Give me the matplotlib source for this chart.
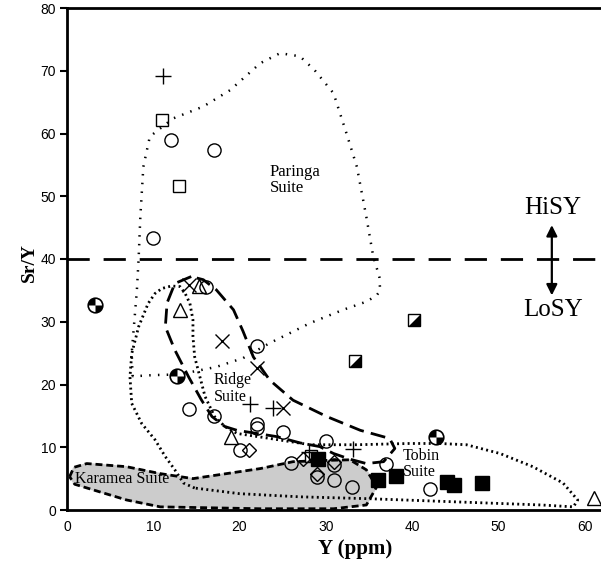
import numpy as np
import matplotlib
matplotlib.use("Agg")
import matplotlib.pyplot as plt
from matplotlib.path import Path

# Muestras (Y ppm, Sr/Y)
circ_x = [12.0, 17.0, 10.0, 16.1, 22.0, 14.1, 17.0, 22.0, 22.0, 25.0, 20.0, 30.0, 26.0, 31.0, 29.0, 31.0, 33.0, 37.0, 42.1]
circ_y = [59.0, 57.3, 43.4, 35.5, 26.1, 16.1, 15.0, 13.7, 13.0, 12.4, 9.6, 11.0, 7.5, 7.2, 5.3, 4.8, 3.6, 7.3, 3.3]
sq_x = [11.0, 13.0, 28.3]
sq_y = [62.2, 51.7, 8.6]
plus_x = [11.1, 21.2, 23.9, 33.1, 28.0]
plus_y = [69.2, 16.9, 16.2, 9.7, 9.2]
cross_x = [14.1, 18.0, 22.0, 25.0]
cross_y = [35.9, 27.0, 22.6, 16.2]
tri_x = [13.1, 15.3, 19.0, 61.1]
tri_y = [31.9, 35.7, 11.7, 1.9]
dia_x = [21.1, 27.3, 31.0, 29.0]
dia_y = [9.6, 8.2, 7.7, 5.8]
fsq_x = [29.1, 36.1, 38.1, 44.0, 44.9, 48.1]
fsq_y = [8.2, 4.8, 5.4, 4.5, 4.0, 4.3]
half_x = [40.2, 33.4]
half_y = [30.2, 23.8]
quad_x = [3.2, 12.8, 42.8]
quad_y = [32.7, 21.4, 11.6]

# Contornos de las suites
paringa_x = [7.6, 7.5, 7.8, 8.1, 8.3, 8.5, 8.85, 9.6, 10.8, 12.3, 15.8, 18.9, 22.4, 24.7, 27.0, 28.7,
             30.9, 32.4, 33.6, 34.7, 35.5, 36.2, 36.3, 35.9, 34.7, 32.0, 28.2, 23.5, 20.4, 17.3, 13.0, 10.0, 7.6]
paringa_y = [21.3, 25.0, 30.0, 35.0, 40.0, 46.7, 54.7, 59.5, 60.8, 62.4, 64.3, 66.9, 71.2, 72.8, 72.3, 70.1,
             66.4, 60.0, 54.7, 46.7, 40.4, 37.2, 35.0, 34.2, 33.2, 31.9, 29.8, 26.6, 24.2, 22.8, 21.6, 21.5, 21.3]

ridge_x = [14.4, 12.5, 11.6, 11.4, 12.5, 14.1, 15.6, 16.8, 18.3, 19.7, 24.3, 27.0, 29.3, 30.9, 32.8, 34.7,
           36.7, 38.0, 37.4, 34.0, 30.1, 26.2, 23.5, 21.6, 20.4, 19.3, 17.3, 15.8, 14.4]
ridge_y = [37.2, 36.1, 33.0, 29.2, 25.5, 21.2, 17.5, 14.9, 13.3, 12.7, 11.7, 10.7, 10.1, 9.0, 8.1, 7.4,
           7.7, 9.8, 11.4, 12.7, 14.9, 17.5, 20.7, 24.4, 28.5, 31.9, 35.1, 36.7, 37.2]

tobin_x = [14.8, 13.5, 12.5, 11.4, 10.2, 8.65, 7.5, 7.3, 7.5, 8.3, 9.4, 10.2, 11.0, 12.1, 13.1, 13.7, 14.25,
           14.6, 14.6, 14.8, 15.2, 16.0, 17.1, 18.3, 19.7, 24.0, 28.2, 33.6, 39.7, 43.2, 46.3, 50.2, 54.0,
           57.5, 59.2, 58.7, 55.0, 45.0, 35.0, 27.0, 20.0, 14.8]
tobin_y = [3.5, 4.3, 6.4, 8.5, 11.2, 13.8, 17.0, 21.2, 24.9, 29.2, 32.9, 34.5, 35.3, 35.7, 35.6, 34.5, 32.9,
           30.3, 27.6, 24.4, 22.3, 18.1, 14.9, 13.3, 12.2, 11.3, 10.4, 10.4, 10.6, 10.6, 10.4, 9.0, 6.9,
           4.3, 1.6, 0.5, 0.8, 1.3, 1.8, 2.1, 2.6, 3.5]

karamea_x = [0.3, 0.8, 2.3, 6.9, 10.8, 14.6, 18.5, 22.4, 26.2, 30.0, 32.8, 34.7, 35.9, 34.7, 30.9, 22.4,
             10.8, 6.9, 3.05, 0.9, 0.3]
karamea_y = [5.3, 6.8, 7.4, 6.9, 5.8, 5.0, 5.8, 6.6, 7.7, 7.9, 8.0, 6.4, 3.7, 0.8, 0.2, 0.2,
             0.5, 1.6, 3.2, 4.1, 5.3]

# Marcadores especiales
quad_path = Path(
    [(0, 0), (-1, 0)] + [(np.cos(a), np.sin(a)) for a in np.linspace(np.pi, np.pi / 2, 12)] + [(0, 0),
     (0, 0), (1, 0)] + [(np.cos(a), np.sin(a)) for a in np.linspace(0, -np.pi / 2, 12)] + [(0, 0)])
half_path = Path([(-1, -1), (1, -1), (1, 1), (-1, -1)])

serif = "Liberation Serif"
sans = "Liberation Sans"

fig = plt.figure(figsize=(6.01, 5.73), dpi=100)
ax = fig.add_axes([67 / 601, 1 - 510 / 573, (601 - 67) / 601, (510 - 8) / 573])

# Suites
ax.fill(karamea_x, karamea_y, color="#cccccc", zorder=1)
ax.plot(karamea_x, karamea_y, color="black", lw=2, linestyle=(0, (2.5, 1.4)), zorder=2)
ax.plot(paringa_x, paringa_y, color="black", lw=1.8, linestyle=(0, (0.6, 2.9)), zorder=2)
ax.plot(tobin_x, tobin_y, color="black", lw=2, linestyle=(0, (0.7, 1.2)), zorder=2)
ax.plot(ridge_x, ridge_y, color="black", lw=2, linestyle=(0, (5.4, 2.6)), zorder=2)

ax.axhline(40, color="black", lw=2, linestyle=(0, (8, 5)), zorder=2)

# Puntos
ax.plot(circ_x, circ_y, "o", ms=9.5, mfc="none", mec="black", mew=1, zorder=3)
ax.plot(sq_x, sq_y, "s", ms=9, mfc="none", mec="black", mew=1, zorder=3)
ax.plot(plus_x, plus_y, "+", ms=11, mec="black", mew=1, zorder=3)
ax.plot(cross_x, cross_y, "x", ms=10, mec="black", mew=1, zorder=3)
ax.plot(tri_x, tri_y, "^", ms=10, mfc="none", mec="black", mew=1, zorder=3)
ax.plot(dia_x, dia_y, "D", ms=7, mfc="none", mec="black", mew=1, zorder=3)
ax.plot(fsq_x, fsq_y, "s", ms=9.5, mfc="black", mec="black", mew=1, zorder=3)
ax.plot(half_x, half_y, "s", ms=9, mfc="white", mec="black", mew=1, zorder=3)
ax.plot(half_x, half_y, marker=half_path, ls="none", ms=9, mfc="black", mec="none", zorder=4)
ax.plot(quad_x, quad_y, "o", ms=10.5, mfc="white", mec="black", mew=1.2, zorder=3)
ax.plot(quad_x, quad_y, marker=quad_path, ls="none", ms=10.5, mfc="black", mec="none", zorder=4)

# Etiquetas
ax.text(23.5, 52.6, "Paringa\nSuite", family=serif, fontsize=12, va="center", ha="left", linespacing=1.05)
ax.text(17.0, 19.4, "Ridge\nSuite", family=serif, fontsize=11.5, va="center", ha="left", linespacing=1.05)
ax.text(38.9, 7.3, "Tobin\nSuite", family=serif, fontsize=11.5, va="center", ha="left", linespacing=1.05)
ax.text(0.9, 4.9, "Karamea Suite", family=serif, fontsize=11.5, va="center", ha="left")
ax.text(56.3, 48.1, "HiSY", family=serif, fontsize=18, va="center", ha="center")
ax.text(56.3, 31.9, "LoSY", family=serif, fontsize=18, va="center", ha="center")
ax.annotate("", xy=(56.2, 45.4), xytext=(56.2, 34.2),
            arrowprops=dict(arrowstyle="<|-|>", color="black", lw=1.6, mutation_scale=16, shrinkA=0, shrinkB=0))

ax.set_xlim(0, 61.9)
ax.set_ylim(0, 80)
ax.set_xticks(range(0, 61, 10))
ax.set_yticks(range(0, 81, 10))
ax.tick_params(axis="x", length=0, pad=7, labelsize=10)
ax.tick_params(axis="y", direction="out", length=5, width=1.5, pad=3, labelsize=10)
for lab in ax.get_xticklabels() + ax.get_yticklabels():
    lab.set_family(sans)
ax.spines["right"].set_visible(False)
for s in ["left", "bottom", "top"]:
    ax.spines[s].set_linewidth(2)

ax.set_xlabel("Y (ppm)", family=serif, fontsize=15, fontweight="bold")
ax.xaxis.set_label_coords(0.539, -0.057)
ax.set_ylabel("Sr/Y", family=serif, fontsize=14, fontweight="bold")
ax.yaxis.set_label_coords(-0.055, 0.492)

fig.savefig("out.png", dpi=100)
